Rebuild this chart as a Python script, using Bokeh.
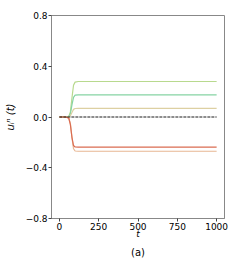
from bokeh.plotting import figure
from bokeh.models import Range1d, FixedTicker, Title
from bokeh.embed import file_html
from bokeh.resources import INLINE

# time samples (t) and trajectories u_i^n(t)
t = [0, 40, 60, 70, 80, 90, 100, 120, 1000]
u_top = [0, 0, 0.005, 0.04, 0.15, 0.25, 0.275, 0.28, 0.28]
u_mid = [0, 0, 0.003, 0.025, 0.095, 0.155, 0.172, 0.175, 0.175]
u_low = [0, 0, 0.001, 0.01, 0.035, 0.06, 0.067, 0.068, 0.068]
u_neg2 = [0, 0, -0.008, -0.05, -0.16, -0.25, -0.268, -0.27, -0.27]
u_neg1 = [0, 0, -0.01, -0.06, -0.16, -0.225, -0.236, -0.238, -0.238]
mean_t = [0, 1000]
mean_u = [0, 0]

series = [
    (u_top, "#b8d98e"),
    (u_mid, "#86d4a4"),
    (u_low, "#ddd0a2"),
    (u_neg2, "#e8b793"),
    (u_neg1, "#da6c52"),
]

x_ticks = [0, 250, 500, 750, 1000]
y_ticks = [-0.8, -0.4, 0.0, 0.4, 0.8]
y_labels = {-0.8: "\u22120.8", -0.4: "\u22120.4", 0.0: "0.0", 0.4: "0.4", 0.8: "0.8"}

p = figure(width=232, height=262, output_backend="svg", toolbar_location=None,
           x_range=Range1d(-50, 1050), y_range=Range1d(-0.8, 0.8),
           min_border_left=51, min_border_right=8, min_border_top=15, min_border_bottom=44)

p.grid.visible = False
p.outline_line_color = "#888888"
p.outline_line_width = 1

for ys, c in series:
    p.line(t, ys, line_color=c, line_width=1.2)
p.line(mean_t, mean_u, line_color="black", line_width=0.9, line_dash="3 1")

for ax in (p.xaxis[0], p.yaxis[0]):
    ax.axis_line_color = "#888888"
    ax.major_tick_line_color = "#444444"
    ax.major_tick_out = 3
    ax.major_tick_in = 0
    ax.minor_tick_out = 0
    ax.minor_tick_in = 0
    ax.major_label_text_font = "DejaVu Sans"
    ax.major_label_text_font_size = "9px"
    ax.major_label_text_color = "black"
    ax.axis_label_text_font = "DejaVu Sans"
    ax.axis_label_text_font_size = "9px"
    ax.axis_label_text_color = "black"

p.xaxis.ticker = FixedTicker(ticks=x_ticks)
p.yaxis.ticker = FixedTicker(ticks=y_ticks)
p.yaxis.major_label_overrides = y_labels
p.xaxis.major_label_standoff = 1
p.yaxis.major_label_standoff = 1
p.xaxis.axis_label = "t"
p.xaxis.axis_label_text_font_style = "italic"
p.xaxis.axis_label_standoff = -4
p.yaxis.axis_label = "u\u1d62\u207f (t)"
p.yaxis.axis_label_text_font_size = "10px"
p.yaxis.axis_label_text_font_style = "italic"
p.yaxis.axis_label_standoff = 7

p.add_layout(Title(text="(a)", align="center", text_font="DejaVu Sans",
                   text_font_size="10px", text_font_style="normal",
                   text_color="black", standoff=6), "below")

open("out.html", "w").write(file_html(p, INLINE))
